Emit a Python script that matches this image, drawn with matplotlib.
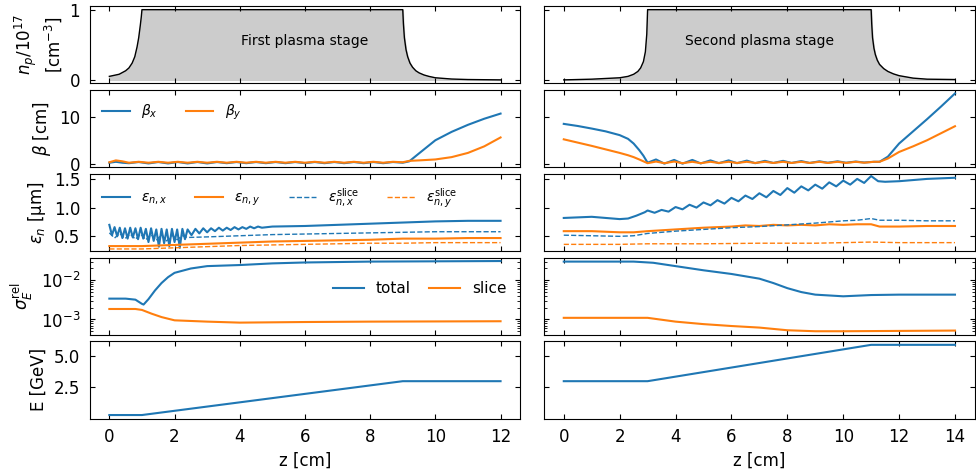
import numpy as np
import matplotlib
matplotlib.use('Agg')
import matplotlib.pyplot as plt

# ---- plasma density profiles (1e17 cm^-3) ----
zn1 = [0.0, 0.3, 0.5, 0.6, 0.7, 0.78, 0.85, 0.9, 0.95, 0.98, 1.0, 9.0, 9.02, 9.05, 9.1, 9.15, 9.22, 9.3, 9.4, 9.5,
       9.65, 9.8, 10.0, 10.5, 11.0, 12.0]
n1 = [0.05, 0.08, 0.13, 0.17, 0.24, 0.33, 0.47, 0.6, 0.78, 0.9, 1.0, 1.0, 0.8, 0.6, 0.43, 0.33, 0.24, 0.18, 0.13, 0.1,
      0.07, 0.05, 0.03, 0.012, 0.005, 0.0]
zn2 = [0.0, 1.0, 2.0, 2.3, 2.5, 2.65, 2.75, 2.85, 2.92, 2.97, 3.0, 11.0, 11.02, 11.05, 11.1, 11.15, 11.22, 11.3,
       11.45, 11.6, 11.8, 12.0, 12.5, 13.0, 14.0]
n2 = [0.0, 0.01, 0.03, 0.05, 0.08, 0.12, 0.17, 0.26, 0.4, 0.65, 1.0, 1.0, 0.8, 0.6, 0.45, 0.36, 0.28, 0.22,
      0.16, 0.12, 0.085, 0.06, 0.025, 0.01, 0.005]

# ---- beta functions (cm) ----
zb1 = [0.0, 0.2, 0.4, 0.6, 0.9, 1.2, 1.5, 1.8, 2.1, 2.4, 2.7, 3.0, 3.3, 3.6, 3.9, 4.2, 4.5, 4.8, 5.1, 5.4,
       5.7, 6.0, 6.3, 6.6, 6.9, 7.2, 7.5, 7.8, 8.1, 8.4, 8.7, 9.0, 9.2, 9.5, 10.0, 10.5, 11.0, 11.5, 12.0]
bx1 = [0.3, 0.5, 0.3, 0.2, 0.45, 0.15, 0.45, 0.15, 0.45, 0.15, 0.45, 0.15, 0.45, 0.2, 0.45, 0.2, 0.45, 0.2, 0.45, 0.2,
       0.45, 0.2, 0.45, 0.2, 0.45, 0.2, 0.45, 0.2, 0.45, 0.2, 0.45, 0.3, 0.6, 2.3, 5.1, 6.9, 8.4, 9.7, 10.8]
by1 = [0.4, 0.8, 0.6, 0.3, 0.5, 0.3, 0.5, 0.3, 0.5, 0.3, 0.5, 0.3, 0.5, 0.3, 0.5, 0.3, 0.5, 0.3, 0.5, 0.3,
       0.5, 0.3, 0.5, 0.3, 0.5, 0.3, 0.5, 0.3, 0.5, 0.3, 0.5, 0.4, 0.7, 0.8, 1.0, 1.5, 2.4, 3.8, 5.7]
zb2 = [0.0, 0.5, 1.0, 1.5, 2.0, 2.3, 2.5, 2.7, 2.85, 3.0, 3.3, 3.6, 3.95, 4.25, 4.6, 4.9, 5.25, 5.55, 5.9, 6.2,
       6.55, 6.85, 7.2, 7.5, 7.85, 8.15, 8.5, 8.8, 9.15, 9.45, 9.8, 10.1, 10.45, 10.75, 11.1, 11.3, 11.6, 12.0,
       12.5, 13.0, 13.5, 14.0]
bx2 = [8.6, 8.15, 7.6, 7.0, 6.2, 5.4, 4.4, 3.0, 1.8, 0.3, 1.0, 0.1, 0.9, 0.1, 0.9, 0.15, 0.8, 0.2, 0.8, 0.2,
       0.75, 0.2, 0.7, 0.25, 0.7, 0.25, 0.65, 0.25, 0.6, 0.3, 0.6, 0.3, 0.55, 0.35, 0.5, 0.5, 1.6, 4.4,
       7.0, 9.6, 12.3, 15.1]
by2 = [5.3, 4.6, 3.9, 3.15, 2.4, 1.9, 1.5, 1.0, 0.6, 0.2, 0.55, 0.2, 0.55, 0.2, 0.5, 0.2, 0.5, 0.25, 0.5, 0.25,
       0.5, 0.25, 0.5, 0.25, 0.5, 0.25, 0.5, 0.25, 0.5, 0.25, 0.5, 0.25, 0.5, 0.3, 0.5, 0.5, 1.2, 2.6,
       3.8, 5.1, 6.6, 8.1]

# ---- normalized emittances (um) ----
ze1 = [0.00, 0.08, 0.16, 0.24, 0.32, 0.40, 0.48, 0.56, 0.64, 0.72, 0.80, 0.88, 0.96, 1.04, 1.12, 1.20,
       1.28, 1.36, 1.44, 1.52, 1.60, 1.68, 1.76, 1.84, 1.92, 2.00, 2.08, 2.16, 2.24, 2.32, 2.40,
       2.52, 2.64, 2.76, 2.88, 3.00, 3.12, 3.24, 3.36, 3.48, 3.60, 3.72, 3.84, 3.96, 4.08, 4.20,
       4.32, 4.44, 4.56, 4.68, 5.0, 6.0, 7.0, 8.0, 9.0, 10.0, 11.0, 12.0]
ex1 = [0.70, 0.52, 0.66, 0.50, 0.65, 0.47, 0.64, 0.46, 0.65, 0.48, 0.64, 0.45, 0.65, 0.46, 0.63, 0.40,
       0.64, 0.42, 0.62, 0.32, 0.63, 0.38, 0.62, 0.33, 0.63, 0.40, 0.62, 0.30, 0.63, 0.45, 0.62,
       0.52, 0.63, 0.55, 0.64, 0.57, 0.64, 0.59, 0.65, 0.60, 0.65, 0.61, 0.66, 0.62, 0.66, 0.63,
       0.67, 0.64, 0.67, 0.65, 0.67, 0.68, 0.70, 0.72, 0.74, 0.76, 0.77, 0.77]
zes1 = [0.0, 0.16, 0.32, 0.48, 0.64, 0.80, 0.96, 1.12, 1.28, 1.44, 1.60, 1.76, 1.92, 2.08, 2.24, 2.40,
        3.0, 4.0, 5.0, 6.0, 7.0, 8.0, 9.0, 10.0, 11.0, 12.0]
exs1 = [0.56, 0.47, 0.55, 0.46, 0.54, 0.45, 0.54, 0.44, 0.53, 0.43, 0.53, 0.42, 0.52, 0.44, 0.51, 0.48,
        0.49, 0.51, 0.53, 0.54, 0.55, 0.56, 0.57, 0.58, 0.58, 0.58]
zy1 = [0.0, 1.0, 2.0, 3.0, 4.0, 5.0, 6.0, 7.0, 8.0, 9.0, 10.0, 11.0, 12.0]
ey1 = [0.33, 0.33, 0.35, 0.37, 0.39, 0.41, 0.42, 0.43, 0.44, 0.46, 0.46, 0.47, 0.47]
eys1 = [0.28, 0.28, 0.30, 0.32, 0.34, 0.35, 0.36, 0.37, 0.38, 0.38, 0.39, 0.39, 0.39]

ze2 = [0.0, 0.5, 1.0, 1.5, 2.0, 2.3, 2.6, 2.9, 3.00, 3.25, 3.50, 3.75, 4.00, 4.25, 4.50, 4.75, 5.00,
       5.25, 5.50, 5.75, 6.00, 6.25, 6.50, 6.75, 7.00, 7.25, 7.50, 7.75, 8.00, 8.25, 8.50, 8.75,
       9.00, 9.25, 9.50, 9.75, 10.00, 10.25, 10.50, 10.75, 11.00, 11.25, 11.5, 12.0, 12.5, 13.0, 14.0]
ex2 = [0.82, 0.83, 0.84, 0.82, 0.80, 0.81, 0.86, 0.92, 0.95, 0.91, 0.96, 0.93, 1.01, 0.97, 1.05, 1.00, 1.09,
       1.04, 1.13, 1.07, 1.17, 1.11, 1.21, 1.15, 1.25, 1.18, 1.29, 1.22, 1.34, 1.26, 1.37, 1.30,
       1.40, 1.33, 1.44, 1.37, 1.47, 1.40, 1.50, 1.43, 1.55, 1.46, 1.45, 1.46, 1.48, 1.50, 1.52]
zx2 = [0.0, 1.0, 2.0, 2.5, 3.0, 4.0, 5.0, 6.0, 7.0, 8.0, 9.0, 10.0, 10.5, 11.0, 11.3, 12.0, 13.0, 14.0]
exs2 = [0.52, 0.51, 0.50, 0.51, 0.55, 0.59, 0.62, 0.65, 0.67, 0.70, 0.73, 0.77, 0.78, 0.81, 0.78, 0.78, 0.77, 0.77]
zy2 = [0.0, 1.0, 2.0, 2.5, 3.0, 4.0, 5.0, 6.0, 6.5, 7.0, 7.5, 8.0, 8.5, 9.0, 9.5, 10.0, 10.5, 11.0, 11.3, 12.0, 13.0, 14.0]
ey2 = [0.59, 0.59, 0.57, 0.57, 0.59, 0.62, 0.65, 0.67, 0.69, 0.68, 0.70, 0.69, 0.70, 0.69, 0.71, 0.70, 0.71, 0.71, 0.67, 0.67, 0.68, 0.68]
zys2 = [0.0, 2.0, 3.0, 5.0, 7.0, 9.0, 11.0, 12.0, 14.0]
eys2 = [0.36, 0.36, 0.37, 0.37, 0.38, 0.38, 0.40, 0.39, 0.39]

# ---- relative energy spread ----
zs1 = [0.0, 0.5, 0.8, 1.0, 1.05, 1.2, 1.4, 1.6, 1.8, 2.0, 2.5, 3.0, 4.0, 5.0, 6.0, 8.0, 10.0, 12.0]
st1 = [3.4e-3, 3.4e-3, 3.2e-3, 2.5e-3, 2.4e-3, 3.3e-3, 5.5e-3, 8.5e-3, 1.2e-2, 1.55e-2, 2.0e-2, 2.3e-2,
       2.45e-2, 2.7e-2, 2.85e-2, 3.0e-2, 3.05e-2, 3.1e-2]
zsl1 = [0.0, 0.8, 1.0, 1.3, 1.6, 2.0, 3.0, 4.0, 6.0, 8.0, 10.0, 12.0]
ssl1 = [1.85e-3, 1.85e-3, 1.75e-3, 1.4e-3, 1.15e-3, 0.95e-3, 0.88e-3, 0.83e-3, 0.86e-3, 0.88e-3, 0.89e-3, 0.9e-3]
zs2 = [0.0, 2.5, 3.2, 4.0, 5.0, 6.0, 7.0, 7.5, 8.0, 8.5, 9.0, 10.0, 11.0, 12.0, 14.0]
st2 = [3.0e-2, 3.0e-2, 2.8e-2, 2.3e-2, 1.8e-2, 1.45e-2, 1.1e-2, 8.5e-3, 6.3e-3, 5.0e-3, 4.3e-3, 3.9e-3,
       4.2e-3, 4.3e-3, 4.3e-3]
zsl2 = [0.0, 3.0, 4.0, 5.0, 6.0, 7.0, 8.0, 9.0, 10.0, 12.0, 14.0]
ssl2 = [1.1e-3, 1.1e-3, 8.8e-4, 7.6e-4, 6.8e-4, 6.2e-4, 5.3e-4, 5.0e-4, 5.0e-4, 5.1e-4, 5.2e-4]

# ---- energy (GeV) ----
zE1 = [0.0, 1.0, 9.0, 12.0]
E1 = [0.3, 0.3, 3.0, 3.0]
zE2 = [0.0, 3.0, 11.0, 14.0]
E2 = [3.0, 3.0, 5.9, 5.9]

stages = ['First plasma stage', 'Second plasma stage']

plt.rcParams['font.size'] = 12
fig, axes = plt.subplots(5, 2, figsize=(9.76, 4.74), dpi=100, sharex='col', sharey='row')
fig.subplots_adjust(left=0.092, right=0.9985, top=0.987, bottom=0.117, wspace=0.056, hspace=0.085)

c1, c2 = 'tab:blue', 'tab:orange'
dens = [(zn1, n1), (zn2, n2)]
betas = [(zb1, bx1, by1), (zb2, bx2, by2)]
emits = [(ze1, ex1, zy1, ey1, zes1, exs1, zy1, eys1),
         (ze2, ex2, zy2, ey2, zx2, exs2, zys2, eys2)]
spreads = [(zs1, st1, zsl1, ssl1), (zs2, st2, zsl2, ssl2)]
energies = [(zE1, E1), (zE2, E2)]

for j in range(2):
    ax = axes[0, j]
    z, n = dens[j]
    ax.fill_between(z, n, color='0.8')
    ax.plot(z, n, color='k', lw=1)
    ax.text((z[0] + z[-1]) / 2, 0.55, stages[j], ha='center', va='center', fontsize=10)

    ax = axes[1, j]
    z, bx, by = betas[j]
    ax.plot(z, bx, color=c1, lw=1.5, label=r'$\beta_x$')
    ax.plot(z, by, color=c2, lw=1.5, label=r'$\beta_y$')

    ax = axes[2, j]
    zx, ex, zy, ey, zxs, exs, zys, eys = emits[j]
    ax.plot(zx, ex, color=c1, lw=1.5, label=r'$\varepsilon_{n,x}$')
    ax.plot(zy, ey, color=c2, lw=1.5, label=r'$\varepsilon_{n,y}$')
    ax.plot(zxs, exs, color=c1, lw=1, ls='--', label=r'$\varepsilon_{n,x}^{\rm slice}$')
    ax.plot(zys, eys, color=c2, lw=1, ls='--', label=r'$\varepsilon_{n,y}^{\rm slice}$')

    ax = axes[3, j]
    zt, st, zsl, ssl = spreads[j]
    ax.semilogy(zt, st, color=c1, lw=1.5, label='total')
    ax.semilogy(zsl, ssl, color=c2, lw=1.5, label='slice')

    ax = axes[4, j]
    z, E = energies[j]
    ax.plot(z, E, color=c1, lw=1.5)
    ax.set_xlabel('z [cm]')

axes[2, 0].set_ylim(0.245, 1.59)
axes[4, 0].set_yticks([2.5, 5.0])
axes[4, 0].set_ylim(0.02, 6.18)
axes[0, 0].set_yticks([0, 1])
axes[1, 0].set_yticks([0, 10])
axes[2, 0].set_yticks([0.5, 1.0, 1.5])
axes[4, 0].set_xticks([0, 2, 4, 6, 8, 10, 12])
axes[4, 1].set_xticks([0, 2, 4, 6, 8, 10, 12, 14])

axes[0, 0].set_ylabel('$n_p/10^{17}$\n[cm$^{-3}$]')
axes[1, 0].set_ylabel(r'$\beta$ [cm]')
axes[2, 0].set_ylabel(r'$\varepsilon_n$ [$\mathrm{\mu}$m]')
axes[3, 0].set_ylabel(r'$\sigma_E^{\rm rel}$')
axes[4, 0].set_ylabel('E [GeV]')

axes[1, 0].legend(loc='upper left', ncol=2, frameon=False, fontsize=10)
axes[2, 0].legend(loc='upper left', ncol=4, frameon=False, fontsize=10)
axes[3, 0].legend(loc='center right', bbox_to_anchor=(1.0, 0.6), ncol=2, frameon=False,
                  fontsize=11, columnspacing=1.2)

for ax in axes.flat:
    ax.tick_params(which='both', direction='in', top=True, right=True, pad=7)

fig.savefig('out.png', dpi=100)
